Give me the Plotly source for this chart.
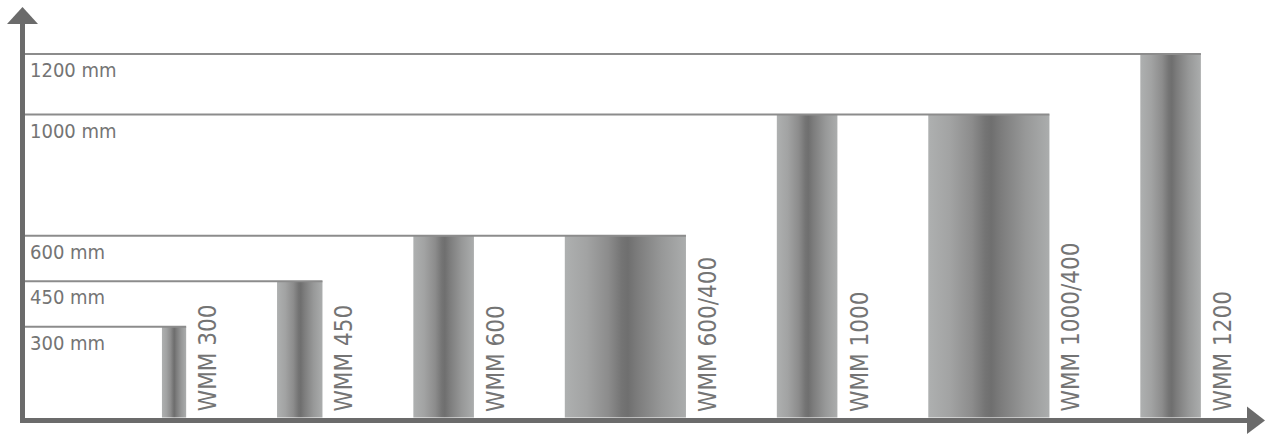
import plotly.graph_objects as go

# ---- data ----
models = ["WMM 300", "WMM 450", "WMM 600", "WMM 600/400", "WMM 1000", "WMM 1000/400", "WMM 1200"]
heights_mm = [300, 450, 600, 600, 1000, 1000, 1200]
widths_mm = [80, 150, 200, 400, 200, 400, 200]
levels_mm = [300, 450, 600, 1000, 1200]
level_labels = ["300 mm", "450 mm", "600 mm", "1000 mm", "1200 mm"]

# ---- layout constants ----
W, H = 1273, 434
S = 0.3029          # px per mm
X0_PX = 22          # pixel of x = 0
Y0_PX = 417.5       # pixel (from top) of y = 0
FIRST_LEFT = 462    # mm
GAP = 300           # mm between bars
AXIS_COLOR = "#6b6b6b"
LINE_COLOR = "#8c8c8c"
TEXT_COLOR = "#747474"
FONT = "DejaVu Sans Condensed, Liberation Sans Narrow, Roboto, Liberation Sans"

grad = [[0.0, "#aeb0b0"], [0.18, "#a2a3a3"], [0.36, "#8c8c8c"], [0.47, "#747474"],
        [0.52, "#6f6f6f"], [0.6, "#7c7c7c"], [0.8, "#979898"], [1.0, "#abadad"]]

lefts = []
pos = FIRST_LEFT
for w in widths_mm:
    lefts.append(pos)
    pos += w + GAP
rights = [l + w for l, w in zip(lefts, widths_mm)]

fig = go.Figure()

# bars as gradient-filled rectangles
for m, l, r, h in zip(models, lefts, rights, heights_mm):
    fig.add_trace(go.Scatter(
        x=[l, r, r, l, l], y=[0, 0, h, h, 0], mode="lines", fill="toself",
        line=dict(width=0), fillgradient=dict(type="horizontal", colorscale=grad),
        hoverinfo="skip", showlegend=False, name=m))

# level lines from the y axis to the right edge of the last bar of that height
for lv in levels_mm:
    rr = max(r for r, h in zip(rights, heights_mm) if h == lv)
    fig.add_trace(go.Scatter(x=[0, rr], y=[lv, lv], mode="lines",
                             line=dict(color=LINE_COLOR, width=2),
                             hoverinfo="skip", showlegend=False))

# level labels
for lv, txt in zip(levels_mm, level_labels):
    fig.add_annotation(x=6 / S, y=lv, text=txt, showarrow=False,
                       xanchor="left", yanchor="top", yshift=-2,
                       font=dict(family=FONT, size=20, color=TEXT_COLOR))

# model labels (vertical)
for m, r in zip(models, rights):
    fig.add_annotation(x=r + 22 / S, y=0, text=m, showarrow=False, textangle=-90,
                       xanchor="center", yanchor="bottom", yshift=4,
                       font=dict(family=FONT, size=24, color=TEXT_COLOR))

# axes with arrows (pixel -> paper)
def px(x):
    return x / W

def py(y):
    return 1 - y / H

fig.add_shape(type="line", xref="paper", yref="paper", x0=px(22.5), x1=px(22.5),
              y0=py(422.5), y1=py(22), line=dict(color=AXIS_COLOR, width=5))
fig.add_shape(type="line", xref="paper", yref="paper", x0=px(20), x1=px(1249),
              y0=py(420.5), y1=py(420.5), line=dict(color=AXIS_COLOR, width=5))
fig.add_shape(type="path", xref="paper", yref="paper",
              path=f"M {px(7)} {py(24)} L {px(22.5)} {py(7)} L {px(38)} {py(24)} Z",
              fillcolor=AXIS_COLOR, line=dict(width=0))
fig.add_shape(type="path", xref="paper", yref="paper",
              path=f"M {px(1247)} {py(406.5)} L {px(1265)} {py(420.5)} L {px(1247)} {py(434)} Z",
              fillcolor=AXIS_COLOR, line=dict(width=0))

fig.update_layout(
    width=W, height=H, margin=dict(l=0, r=0, t=0, b=0),
    paper_bgcolor="white", plot_bgcolor="white",
    xaxis=dict(range=[-X0_PX / S, (W - X0_PX) / S], visible=False, fixedrange=True),
    yaxis=dict(range=[-(H - Y0_PX) / S, Y0_PX / S], visible=False, fixedrange=True),
)

fig.write_html("out.html", config={"displayModeBar": False},
               post_script="document.body.style.margin='0';document.body.style.overflow='hidden';")
